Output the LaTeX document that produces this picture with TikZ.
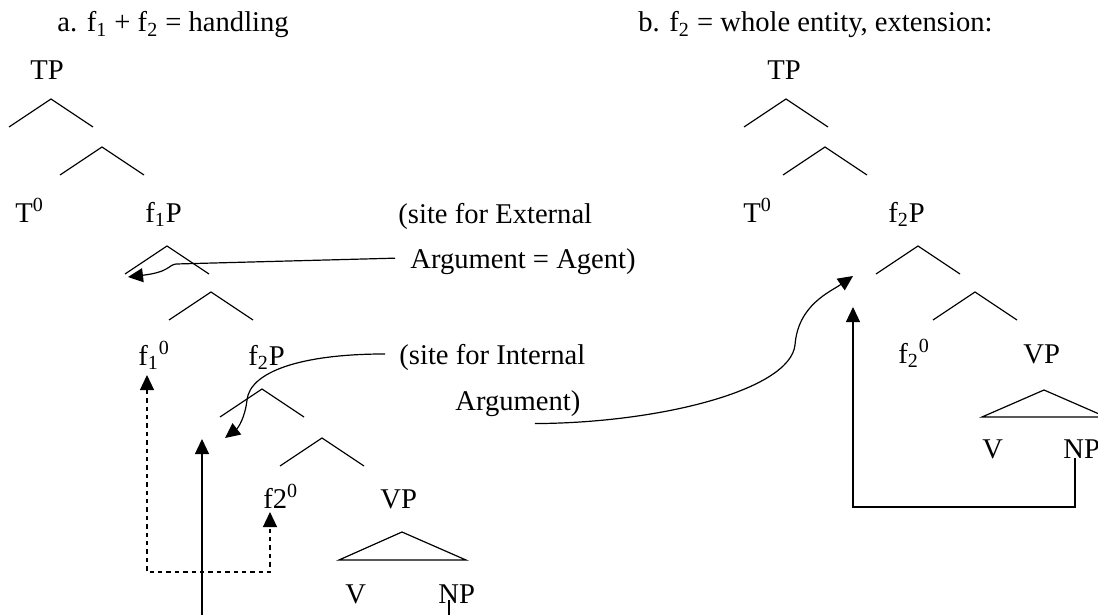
\documentclass[tikz,border=0pt]{standalone}
\usepackage{fontspec}
\setmainfont{Liberation Serif}
\usetikzlibrary{arrows.meta}

\begin{document}
\begin{tikzpicture}[
  x=0.5pt, y=-0.5pt,
  every node/.style={font=\fontsize{14.3}{17}\selectfont, inner sep=0pt},
  lbl/.style={anchor=base west},
  branch/.style={line width=0.6pt},
  move/.style={line width=0.6pt, -{Triangle[length=7.5pt,width=7pt]}},
  headmove/.style={line width=0.6pt, dash pattern=on 2.2pt off 2pt,
                   {Triangle[length=7.5pt,width=7pt]}-{Triangle[length=7.5pt,width=7pt]}}
]
  \useasboundingbox (0,0) rectangle (1098,615);
  \clip (0,0) rectangle (1098,615);

  \node[lbl] (headA) at (57,32)    {a. f\textsubscript{1} + f\textsubscript{2} = handling};
  \node[lbl] (tpA)   at (30,80)    {TP};
  \node[lbl] (t0A)   at (15,222)   {T\textsuperscript{0}};
  \node[lbl] (f1pA)  at (145,222)  {f\textsubscript{1}P};
  \node[lbl] (f10A)  at (138,365)  {f\textsubscript{1}\textsuperscript{0}};
  \node[lbl] (f2pA)  at (248,365)  {f\textsubscript{2}P};
  \node[lbl] (f20A)  at (263,508)  {f2\textsuperscript{0}};
  \node[lbl] (vpA)   at (380,508)  {VP};
  \node[lbl] (vA)    at (345,603)  {V};
  \node[lbl] (npA)   at (438,603)  {NP};
  \node[lbl] (ext1)  at (398,223)  {(site for External};
  \node[lbl] (ext2)  at (410,268)  {Argument = Agent)};
  \node[lbl] (int1)  at (399,364)  {(site for Internal};
  \node[lbl] (int2)  at (455,410)  {Argument)};

  \node[lbl] (headB) at (638,32)   {b. f\textsubscript{2} = whole entity, extension:};
  \node[lbl] (tpB)   at (767,80)   {TP};
  \node[lbl] (t0B)   at (743,222)  {T\textsuperscript{0}};
  \node[lbl] (f2pB)  at (888,222)  {f\textsubscript{2}P};
  \node[lbl] (f20B)  at (898,363)  {f\textsubscript{2}\textsuperscript{0}};
  \node[lbl] (vpB)   at (1023,363) {VP};
  \node[lbl] (vB)    at (982,458)  {V};
  \node[lbl] (npB)   at (1063,458) {NP};

  \coordinate (agtA)  at (128,277);
  \coordinate (intA)  at (225,438);
  \coordinate (objA)  at (202,439);
  \coordinate (specB) at (853,276);
  \coordinate (objB)  at (853,307);

  \foreach \ax/\ay in {51/99, 102/147, 167/246, 211/292, 262/389, 322/438,
                       786/99, 825/147, 918/246, 975/292}
    \draw[branch] (\ax-42,\ay+28) -- (\ax,\ay) -- (\ax+42,\ay+28);
  \draw[branch] (339,560) -- (402,532) -- (466,560) -- cycle;
  \draw[branch] (982,417) -- (1044,390) -- (1106,417) -- cycle;

  \draw[move] ([shift={(-15,-3)}]ext2.west) -- (176,264)
    .. controls (168,265) and (170,272) .. (agtA);
  \draw[move] ([shift={(-14,-3)}]int1.west) .. controls (300,354) and (250,372) .. (247,400)
    .. controls (245,418) and (238,428) .. (intA);
  \draw[move] ([shift={(17,7)}]int2.south) .. controls (660,423) and (790,390) .. (795,345)
    .. controls (798,305) and (830,292) .. (specB);
  \draw[move] ([shift={(11,-3)}]npA.base west) -- ++(0,52) -| (objA);
  \draw[move] ([xshift=6pt]npB.base west) -- ++(0,49) -| (objB);
  \draw[headmove] ([shift={(9,10)}]f10A.base west) |- ([shift={(7,64)}]f20A.base west)
    -- ([shift={(7,4)}]f20A.base west);
\end{tikzpicture}
\end{document}
